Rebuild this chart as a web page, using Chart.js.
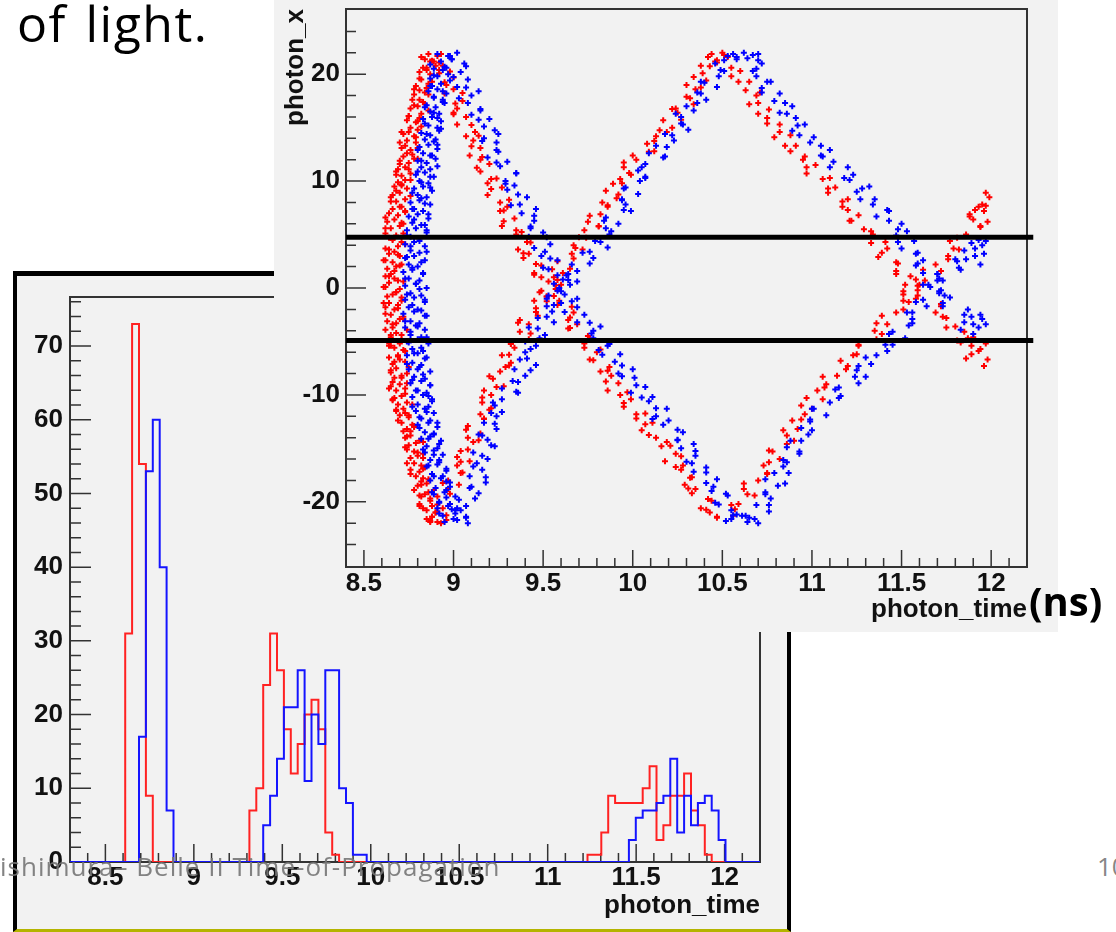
<!DOCTYPE html>
<html>
<head>
<meta charset="utf-8">
<script src="https://cdn.jsdelivr.net/npm/chart.js@4.4.0/dist/chart.umd.min.js"></script>
<style>
html, body { margin: 0; padding: 0; background: #fff; width: 1116px; height: 932px; overflow: hidden; position: relative; }
.slideText { position: absolute; font-family: 'Open Sans', sans-serif; white-space: nowrap; line-height: 1; }
#ofLight { left: 17px; top: -2px; font-size: 50px; color: #000; letter-spacing: 1.5px; word-spacing: 4px; }
#histBox { position: absolute; left: 13px; top: 271px; width: 770px; height: 653px; border-left: 4px solid #000; border-top: 5px solid #000; border-right: 4px solid #000; border-bottom: 3px solid #b4b400; background: #f2f2f2; }
#scatterBox { position: absolute; left: 274px; top: 0; width: 784px; height: 632px; background: #f2f2f2; }
canvas { display: block; }
#footer { left: 0; top: 853px; font-size: 26px; letter-spacing: 1px; color: rgba(118,118,118,0.9); }
#pageNo { left: 1097px; top: 853px; font-size: 26px; color: rgba(118,118,118,0.9); }
#units { left: 1029px; top: 581px; font-size: 40px; font-weight: bold; color: #000; }
</style>
</head>
<body>
<div id="ofLight" class="slideText">of light.</div>
<div id="histBox"></div>
<div id="footer" class="slideText">ishimura– Belle II Time-of-Propagation</div>
<div id="pageNo" class="slideText">10</div>
<div id="scatterBox"></div>
<div id="units" class="slideText">(ns)</div>
<script>
// ---- histogram: photon_time for photons inside the cut band (100 bins, 8.3 .. 12.2 ns)
const histBinStart = 8.3;
const histBinWidth = 0.039;
const redCounts = [
  0,0,0,0,0,0,0,0,31,73,
  54,9,0,0,0,0,0,0,0,0,
  0,0,0,0,0,0,7,10,24,31,
  26,18,12,16,20,22,18,4,1,0,
  0,0,0,0,0,0,0,0,0,0,
  0,0,0,0,0,0,0,0,0,0,
  0,0,0,0,0,0,0,0,0,0,
  0,0,0,0,0,1,1,4,9,8,
  8,8,8,10,13,3,5,9,9,12,
  7,5,1,0,0,0,0,0,0,0
];
const blueCounts = [
  0,0,0,0,0,0,0,0,0,0,
  17,53,60,40,7,0,0,0,0,0,
  0,0,0,0,0,0,0,0,5,9,
  14,21,21,26,11,20,16,26,26,10,
  8,1,1,0,0,0,0,0,0,0,
  0,0,0,0,0,0,0,0,0,0,
  0,0,0,0,0,0,0,0,0,0,
  0,0,0,0,0,0,0,0,0,0,
  0,3,6,7,7,8,9,14,4,9,
  5,8,9,7,3,0,0,0,0,0
];
const timeTickValues = [8.5, 9, 9.5, 10, 10.5, 11, 11.5, 12];
const timeTickLabels = ['8.5', '9', '9.5', '10', '10.5', '11', '11.5', '12'];
const countTickValues = [0, 10, 20, 30, 40, 50, 60, 70];
const countTickLabels = ['0', '10', '20', '30', '40', '50', '60', '70'];
const posTickValues = [-20, -10, 0, 10, 20];
const posTickLabels = ['-20', '-10', '0', '10', '20'];
const cutLines = [4.75, -4.9];

// ---- scatter: [photon_time, photon_x]
const redLeftArm = [
[8.86,21.9],[8.91,21.7],[8.84,21.4],[8.89,21.2],[8.90,20.8],[8.83,20.6],[8.81,20.2],[8.87,20.0],[8.85,20.4],
[8.82,19.5],[8.88,19.3],[8.79,18.9],[8.85,18.7],[8.84,18.3],[8.78,18.1],[8.81,18.5],[8.77,17.6],[8.83,17.4],
[8.80,17.0],[8.76,16.8],[8.84,17.2],[8.82,16.3],[8.75,16.1],[8.74,15.7],[8.79,15.5],[8.81,15.9],[8.76,15.0],
[8.80,14.8],[8.72,14.4],[8.78,14.2],[8.75,14.6],[8.74,13.8],[8.79,13.6],[8.71,13.1],[8.76,12.9],[8.73,13.3],
[8.77,12.5],[8.72,12.3],[8.70,11.9],[8.75,11.7],[8.78,12.1],[8.73,11.3],[8.69,11.1],[8.76,10.7],[8.71,10.5],
[8.68,10.9],[8.73,10.1],[8.69,9.9],[8.67,9.5],[8.74,9.3],[8.71,9.7],[8.70,8.9],[8.66,8.7],[8.73,8.3],[8.68,8.1],
[8.65,8.5],[8.71,7.6],[8.66,7.4],[8.64,7.0],[8.69,6.8],[8.73,7.2],[8.67,6.4],[8.63,6.2],[8.70,5.8],[8.65,5.6],
[8.72,6.0],[8.62,5.1],[8.68,4.9],[8.66,4.5],[8.71,4.3],[8.64,4.7],[8.69,3.9],[8.62,3.7],[8.64,3.2],[8.70,3.0],
[8.67,3.4],[8.61,2.6],[8.66,2.4],[8.68,2.0],[8.63,1.8],[8.71,2.2],[8.65,1.3],[8.62,1.1],[8.69,0.7],[8.64,0.5],
[8.67,0.9],[8.61,0.1],[8.70,-0.1],[8.66,-0.6],[8.63,-0.8],[8.68,-0.4],[8.71,-1.2],[8.64,-1.4],[8.62,-1.8],
[8.67,-2.0],[8.69,-1.6],[8.65,-2.5],[8.72,-2.7],[8.63,-3.1],[8.68,-3.3],[8.70,-2.9],[8.66,-3.7],[8.62,-3.9],
[8.71,-4.4],[8.65,-4.6],[8.68,-4.2],[8.63,-5.0],[8.70,-5.2],[8.67,-5.6],[8.72,-5.8],[8.65,-5.4],[8.69,-6.3],
[8.64,-6.5],[8.73,-6.9],[8.66,-7.1],[8.70,-6.7],[8.68,-7.5],[8.65,-7.7],[8.71,-8.2],[8.67,-8.4],[8.74,-8.0],
[8.66,-8.8],[8.70,-9.0],[8.73,-9.4],[8.68,-9.6],[8.65,-9.2],[8.71,-10.1],[8.67,-10.3],[8.74,-10.7],[8.69,-10.9],
[8.66,-10.5],[8.72,-11.3],[8.68,-11.5],[8.70,-11.9],[8.75,-12.1],[8.73,-11.7],[8.71,-12.6],[8.77,-12.8],
[8.74,-13.2],[8.72,-13.4],[8.78,-13.0],[8.76,-13.8],[8.73,-14.0],[8.79,-14.5],[8.75,-14.7],[8.81,-14.3],
[8.74,-15.1],[8.78,-15.3],[8.80,-15.7],[8.76,-15.9],[8.83,-15.5],[8.78,-16.4],[8.82,-16.6],[8.76,-17.0],
[8.81,-17.2],[8.84,-16.8],[8.79,-17.6],[8.83,-17.8],[8.85,-18.3],[8.80,-18.5],[8.82,-18.1],[8.78,-18.9],
[8.86,-19.1],[8.82,-19.5],[8.87,-19.7],[8.84,-19.3],[8.81,-20.2],[8.88,-20.4],[8.85,-20.8],[8.90,-21.0],
[8.83,-20.6],[8.88,-21.4],[8.85,-21.6],[8.91,-21.9],[8.87,-21.8],[8.93,-22.0],
[8.82,21.6],[8.92,21.1],[8.85,20.6],[8.92,20.1],[8.81,19.6],[8.86,19.1],[8.78,18.6],[8.86,18.1],[8.81,17.6],
[8.78,17.1],[8.86,16.6],[8.75,16.1],[8.80,15.6],[8.82,15.1],[8.71,14.6],[8.79,14.1],[8.70,13.6],[8.80,13.1],
[8.74,12.6],[8.80,12.1],[8.70,11.6],[8.75,11.1],[8.68,10.6],[8.76,10.1],[8.71,9.6],[8.68,9.1],[8.76,8.6],
[8.65,8.1],[8.70,7.6],[8.73,7.1],[8.62,6.6],[8.71,6.1],[8.62,5.6],[8.72,5.1],[8.66,4.6],[8.73,4.1],[8.64,3.6],
[8.69,3.1],[8.62,2.6],[8.70,2.1],[8.67,1.6],[8.64,1.1],[8.72,0.6],[8.62,0.1],[8.68,-0.4],[8.71,-0.9],
[8.61,-1.4],[8.69,-1.9],[8.62,-2.4],[8.72,-2.9],[8.66,-3.4],[8.74,-3.9],[8.65,-4.4],[8.71,-4.9],[8.64,-5.4],
[8.73,-5.9],[8.69,-6.4],[8.67,-6.9],[8.75,-7.4],[8.65,-7.9],[8.71,-8.4],[8.74,-8.9],[8.64,-9.4],[8.73,-9.9],
[8.66,-10.4],[8.77,-10.9],[8.68,-11.4],[8.75,-11.9],[8.69,-12.4],[8.78,-12.9],[8.76,-13.4],[8.74,-13.9],
[8.83,-14.4],[8.73,-14.9],[8.80,-15.4],[8.83,-15.9],[8.74,-16.4],[8.83,-16.9],[8.76,-17.4],[8.86,-17.9],
[8.82,-18.4],[8.89,-18.9],[8.81,-19.4],[8.87,-19.9],[8.81,-20.4],[8.91,-20.9],[8.88,-21.4],[8.87,-21.9]
];
const redFallArm1 = [
[8.93,21.9],[8.87,21.2],[8.94,20.8],[8.92,20.4],[9.00,19.7],[8.96,19.0],[9.00,18.6],[8.95,18.2],[9.05,17.5],
[9.02,16.8],[9.00,16.4],[9.07,16.0],[9.02,15.3],[9.12,14.6],[9.07,14.2],[9.11,13.8],[9.15,13.1],[9.09,12.4],
[9.15,12.0],[9.20,11.6],[9.15,10.9],[9.21,10.2],[9.19,9.8],[9.27,9.4],[9.19,8.7],[9.26,8.0],[9.30,7.6],
[9.26,7.2],[9.34,6.5],[9.27,5.8],[9.35,5.4],[9.35,5.0],[9.41,4.3],[9.36,3.6],[9.42,3.2],[9.39,2.8],[9.49,2.1],
[9.45,1.4],[9.49,1.0],[9.53,0.6],[9.57,-0.1],[9.52,-0.8],[9.59,-1.2],[9.58,-1.6],[9.67,-2.3],[9.64,-3.0],
[9.69,-3.4],[9.64,-3.8],[9.75,-4.5],[9.73,-5.2],[9.73,-5.6],[9.80,-6.0],[9.76,-6.7],[9.87,-7.4],[9.82,-7.8],
[9.88,-8.2],[9.92,-8.9],[9.86,-9.6],[9.93,-10.0],[9.99,-10.4],[9.95,-11.1],[10.02,-11.8],[10.02,-12.2],
[10.11,-12.6],[10.05,-13.3],[10.13,-14.0],[10.19,-14.4],[10.16,-14.8],[10.24,-15.5],[10.18,-16.2],[10.28,-16.6],
[10.27,-17.0],[10.33,-17.7],[10.29,-18.4],[10.35,-18.8],[10.33,-19.2],[10.44,-19.9],[10.38,-20.6],[10.43,-21.0],
[10.47,-21.4],
[8.88,21.25],[8.98,20.25],[8.95,19.25],[9.05,18.25],[9.01,17.25],[9.00,16.25],[9.10,15.25],[9.14,14.25],
[9.10,13.25],[9.16,12.25],[9.13,11.25],[9.24,10.25],[9.21,9.25],[9.31,8.25],[9.28,7.25],[9.28,6.25],
[9.38,5.25],[9.43,4.25],[9.39,3.25],[9.46,2.25],[9.45,1.25],[9.57,0.25],[9.56,-0.75],[9.66,-1.75],
[9.65,-2.75],[9.65,-3.75],[9.76,-4.75],[9.82,-5.75],[9.78,-6.75],[9.86,-7.75],[9.85,-8.75],[9.97,-9.75],
[9.95,-10.75],[10.07,-11.75],[10.07,-12.75],[10.09,-13.75],[10.21,-14.75],[10.27,-15.75],[10.24,-16.75],
[10.32,-17.75],[10.31,-18.75],[10.42,-19.75],[10.41,-20.75]
];
const redRiseArm1 = [
[8.96,-21.7],[8.90,-21.0],[8.94,-20.6],[8.98,-20.2],[8.91,-19.5],[8.97,-18.8],[9.03,-18.4],[8.97,-18.0],
[9.04,-17.3],[9.02,-16.6],[9.09,-16.2],[9.02,-15.8],[9.08,-15.1],[9.11,-14.4],[9.08,-14.0],[9.15,-13.6],
[9.08,-12.9],[9.17,-12.2],[9.15,-11.8],[9.20,-11.4],[9.16,-10.7],[9.21,-10.0],[9.17,-9.6],[9.28,-9.2],
[9.22,-8.5],[9.26,-7.8],[9.29,-7.4],[9.32,-7.0],[9.27,-6.3],[9.34,-5.6],[9.32,-5.2],[9.42,-4.8],[9.37,-4.1],
[9.42,-3.4],[9.37,-3.0],[9.47,-2.6],[9.46,-1.9],[9.45,-1.2],[9.52,-0.8],[9.48,-0.4],[9.60,0.3],[9.56,1.0],
[9.61,1.4],[9.65,1.8],[9.58,2.5],[9.66,3.2],[9.72,3.6],[9.67,4.0],[9.74,4.7],[9.73,5.4],[9.81,5.8],[9.75,6.2],
[9.82,6.9],[9.86,7.6],[9.83,8.0],[9.91,8.4],[9.85,9.1],[9.94,9.8],[9.93,10.2],[9.99,10.6],[9.95,11.3],
[10.02,12.0],[10.00,12.4],[10.12,12.8],[10.08,13.5],[10.13,14.2],[10.19,14.6],[10.22,15.0],[10.17,15.7],
[10.25,16.4],[10.24,16.8],[10.34,17.2],[10.30,17.9],[10.35,18.6],[10.30,19.0],[10.41,19.4],[10.39,20.1],
[10.38,20.8],[10.46,21.2],[10.42,21.6],[10.50,22.0],[10.53,21.6],[10.44,21.9],
[8.96,-21.25],[8.91,-20.25],[8.98,-19.25],[8.94,-18.25],[9.05,-17.25],[9.04,-16.25],[9.04,-15.25],
[9.14,-14.25],[9.07,-13.25],[9.17,-12.25],[9.21,-11.25],[9.16,-10.25],[9.24,-9.25],[9.20,-8.25],[9.31,-7.25],
[9.31,-6.25],[9.32,-5.25],[9.43,-4.25],[9.36,-3.25],[9.46,-2.25],[9.52,-1.25],[9.49,-0.25],[9.58,0.75],
[9.55,1.75],[9.67,2.75],[9.68,3.75],[9.70,4.75],[9.81,5.75],[9.76,6.75],[9.86,7.75],[9.92,8.75],[9.89,9.75],
[9.98,10.75],[9.95,11.75],[10.09,12.75],[10.12,13.75],[10.15,14.75],[10.27,15.75],[10.22,16.75],
[10.32,17.75],[10.38,18.75],[10.34,19.75],[10.43,20.75]
];
const redFallArm2 = [
[10.51,21.8],[10.47,21.1],[10.55,20.6],[10.55,19.8],[10.65,19.3],[10.63,18.5],[10.69,18.0],[10.65,17.2],
[10.76,16.7],[10.75,15.9],[10.75,15.4],[10.82,14.6],[10.79,14.1],[10.91,13.3],[10.88,12.8],[10.95,12.0],
[11.02,11.5],[10.97,10.7],[11.06,10.2],[11.13,9.4],[11.09,8.9],[11.17,8.1],[11.17,7.6],[11.26,6.8],
[11.21,6.3],[11.29,5.5],[11.34,5.0],[11.33,4.2],[11.42,3.7],[11.37,2.9],[11.47,2.4],[11.47,1.6],[11.55,1.1],
[11.52,0.3],[11.59,-0.2],[11.58,-1.0],[11.72,-1.5],[11.69,-2.3],[11.75,-2.8],[11.80,-3.6],[11.85,-4.1],
[11.81,-4.9],[11.89,-5.4],[11.89,-6.2],[11.98,-6.7],[11.93,-5.9],[11.86,-6.6],[11.96,-7.3],[11.90,-4.6],
[11.83,-5.1],[11.97,-5.2],
[10.47,21.3],[10.60,20.3],[10.59,19.3],[10.71,18.3],[10.70,17.3],[10.70,16.3],[10.82,15.3],[10.88,14.3],
[10.85,13.3],[10.96,12.3],[10.97,11.3],[11.10,10.3],[11.09,9.3],[11.20,8.3],[11.20,7.3],[11.22,6.3],
[11.33,5.3],[11.41,4.3],[11.39,3.3],[11.48,2.3],[11.47,1.3],[11.60,0.3],[11.59,-0.7],[11.72,-1.7],
[11.73,-2.7],[11.75,-3.7],[11.87,-4.7],[11.94,-5.7]
];
const redRiseArm2 = [
[10.47,-21.5],[10.57,-20.7],[10.59,-20.2],[10.68,-19.4],[10.62,-18.8],[10.70,-18.0],[10.75,-17.4],
[10.73,-16.6],[10.82,-16.0],[10.76,-15.2],[10.86,-14.6],[10.86,-13.8],[10.92,-13.2],[10.89,-12.4],
[10.96,-11.8],[10.94,-11.0],[11.06,-10.4],[11.03,-9.6],[11.08,-9.0],[11.14,-8.2],[11.19,-7.6],[11.16,-6.8],
[11.25,-6.2],[11.26,-5.4],[11.36,-4.8],[11.35,-4.0],[11.42,-3.4],[11.39,-2.6],[11.51,-2.0],[11.51,-1.2],
[11.51,-0.6],[11.59,0.2],[11.58,0.8],[11.72,1.6],[11.69,2.2],[11.76,3.0],[11.82,3.6],[11.77,4.4],[11.86,5.0],
[11.94,5.8],[11.90,6.4],[11.96,7.2],[11.95,7.8],[11.99,8.5],[11.97,8.9],[11.93,7.6],[11.88,6.9],[11.98,6.2],
[11.91,7.3],
[10.56,-21.3],[10.55,-20.3],[10.64,-19.3],[10.62,-18.3],[10.75,-17.3],[10.76,-16.3],[10.78,-15.3],
[10.90,-14.3],[10.84,-13.3],[10.94,-12.3],[11.00,-11.3],[10.97,-10.3],[11.07,-9.3],[11.06,-8.3],[11.20,-7.3],
[11.23,-6.3],[11.26,-5.3],[11.39,-4.3],[11.36,-3.3],[11.47,-2.3],[11.54,-1.3],[11.51,-0.3],[11.63,0.7],
[11.62,1.7],[11.76,2.7],[11.79,3.7],[11.81,4.7],[11.94,5.7],[11.88,6.7],[11.97,7.7]
];
const blueLeftArm = [
[8.91,21.9],[8.97,21.7],[9.02,22.0],[8.93,21.2],[8.99,21.4],[8.89,20.5],[8.95,20.7],[8.91,19.8],[8.97,20.0],
[8.87,19.6],[8.93,19.1],[8.88,18.9],[8.86,18.4],[8.91,18.6],[8.96,18.2],[8.89,17.8],[8.94,17.6],[8.85,17.1],
[8.90,16.9],[8.95,17.3],[8.87,16.5],[8.92,16.3],[8.83,15.8],[8.88,16.0],[8.93,15.6],[8.86,15.2],[8.91,15.0],
[8.82,14.5],[8.87,14.3],[8.92,14.7],[8.84,13.9],[8.89,13.7],[8.81,13.2],[8.86,13.4],[8.91,13.0],[8.83,12.6],
[8.88,12.4],[8.80,11.9],[8.85,11.7],[8.90,12.1],[8.82,11.3],[8.87,11.1],[8.79,10.6],[8.84,10.8],[8.89,10.4],
[8.81,10.0],[8.86,9.8],[8.78,9.3],[8.83,9.5],[8.88,9.1],[8.80,8.7],[8.85,8.5],[8.76,8.0],[8.81,8.2],[8.87,7.8],
[8.78,7.4],[8.83,7.2],[8.75,6.7],[8.80,6.9],[8.86,6.5],[8.77,6.1],[8.82,5.9],[8.74,5.4],[8.79,5.6],[8.85,5.2],
[8.76,4.8],[8.81,4.6],[8.73,4.1],[8.78,4.3],[8.84,3.9],[8.76,3.5],[8.81,3.3],[8.73,2.8],[8.78,3.0],[8.84,2.6],
[8.75,2.2],[8.80,2.0],[8.72,1.5],[8.77,1.7],[8.83,1.3],[8.75,0.9],[8.81,0.7],[8.73,0.2],[8.79,0.4],[8.85,0.0],
[8.76,-0.5],[8.82,-0.7],[8.73,-1.1],[8.78,-0.9],[8.84,-1.3],[8.75,-1.8],[8.80,-2.0],[8.72,-2.4],[8.78,-2.2],
[8.85,-2.6],[8.76,-3.1],[8.81,-3.3],[8.73,-3.7],[8.79,-3.5],[8.84,-3.9],[8.76,-4.4],[8.82,-4.6],[8.74,-5.0],
[8.80,-4.8],[8.86,-5.2],[8.77,-5.7],[8.83,-5.9],[8.74,-6.3],[8.80,-6.1],[8.85,-6.5],[8.77,-7.0],[8.82,-7.2],
[8.75,-7.6],[8.81,-7.4],[8.87,-7.8],[8.78,-8.3],[8.84,-8.5],[8.76,-8.9],[8.82,-8.7],[8.87,-9.1],[8.79,-9.6],
[8.85,-9.8],[8.77,-10.2],[8.83,-10.0],[8.88,-10.4],[8.80,-10.9],[8.86,-11.1],[8.79,-11.5],[8.84,-11.3],
[8.89,-11.7],[8.82,-12.2],[8.87,-12.4],[8.80,-12.8],[8.86,-12.6],[8.91,-13.0],[8.84,-13.5],[8.89,-13.7],
[8.82,-14.1],[8.87,-13.9],[8.93,-14.3],[8.85,-14.8],[8.91,-15.0],[8.84,-15.4],[8.89,-15.2],[8.94,-15.6],
[8.87,-16.1],[8.92,-16.3],[8.85,-16.7],[8.91,-16.5],[8.96,-16.9],[8.88,-17.4],[8.94,-17.6],[8.87,-18.0],
[8.93,-17.8],[8.98,-18.2],[8.90,-18.7],[8.96,-18.9],[8.89,-19.3],[8.95,-19.1],[9.01,-19.5],[8.92,-20.0],
[8.98,-20.2],[8.91,-20.6],[8.97,-20.4],[9.04,-20.8],[8.94,-21.3],[9.01,-21.1],[9.07,-21.5],[8.95,-21.9],
[9.02,-21.7],[9.08,-22.0],
[8.99,21.4],[8.87,20.9],[8.94,20.4],[8.89,19.9],[8.98,19.4],[8.87,18.9],[8.94,18.4],[8.89,17.9],[8.94,17.4],
[8.84,16.9],[8.89,16.4],[8.91,15.9],[8.84,15.4],[8.93,14.9],[8.85,14.4],[8.90,13.9],[8.91,13.4],[8.80,12.9],
[8.87,12.4],[8.82,11.9],[8.91,11.4],[8.80,10.9],[8.87,10.4],[8.82,9.9],[8.87,9.4],[8.77,8.9],[8.82,8.4],
[8.84,7.9],[8.77,7.4],[8.86,6.9],[8.78,6.4],[8.84,5.9],[8.85,5.4],[8.74,4.9],[8.81,4.4],[8.76,3.9],[8.85,3.4],
[8.74,2.9],[8.82,2.4],[8.77,1.9],[8.83,1.4],[8.73,0.9],[8.79,0.4],[8.81,-0.1],[8.74,-0.6],[8.84,-1.1],
[8.77,-1.6],[8.82,-2.1],[8.84,-2.6],[8.73,-3.1],[8.80,-3.6],[8.76,-4.1],[8.85,-4.6],[8.75,-5.1],[8.82,-5.6],
[8.78,-6.1],[8.84,-6.6],[8.74,-7.1],[8.80,-7.6],[8.83,-8.1],[8.77,-8.6],[8.87,-9.1],[8.80,-9.6],[8.86,-10.1],
[8.88,-10.6],[8.77,-11.1],[8.85,-11.6],[8.81,-12.1],[8.91,-12.6],[8.81,-13.1],[8.89,-13.6],[8.86,-14.1],
[8.92,-14.6],[8.83,-15.1],[8.89,-15.6],[8.92,-16.1],[8.86,-16.6],[8.96,-17.1],[8.89,-17.6],[8.96,-18.1],
[8.98,-18.6],[8.88,-19.1],[8.96,-19.6],[8.92,-20.1],[9.02,-20.6],[8.92,-21.1],[9.00,-21.6]
];
const blueFallArm1 = [
[8.98,21.7],[9.06,21.0],[8.96,20.6],[9.04,20.2],[9.08,19.5],[9.02,18.8],[9.14,18.4],[9.10,18.0],[9.08,17.3],
[9.15,16.6],[9.10,16.2],[9.20,15.8],[9.17,15.1],[9.25,14.4],[9.17,14.0],[9.24,13.6],[9.24,12.9],[9.19,12.2],
[9.30,11.8],[9.26,11.4],[9.35,10.7],[9.29,10.0],[9.34,9.6],[9.30,9.2],[9.41,8.5],[9.37,7.8],[9.46,7.4],
[9.38,7.0],[9.45,6.3],[9.43,5.6],[9.50,5.2],[9.42,4.8],[9.54,4.1],[9.51,3.4],[9.49,3.0],[9.58,2.6],[9.50,1.9],
[9.58,1.2],[9.61,0.8],[9.56,0.4],[9.60,-0.3],[9.69,-1.0],[9.60,-1.4],[9.69,-1.8],[9.73,-2.5],[9.69,-3.2],
[9.82,-3.6],[9.78,-4.0],[9.78,-4.7],[9.86,-5.4],[9.81,-5.8],[9.93,-6.2],[9.90,-6.9],[10.00,-7.6],[9.92,-8.0],
[10.01,-8.4],[10.02,-9.1],[9.99,-9.8],[10.11,-10.2],[10.09,-10.6],[10.19,-11.3],[10.13,-12.0],[10.20,-12.4],
[10.17,-12.8],[10.28,-13.5],[10.25,-14.2],[10.34,-14.6],[10.27,-15.0],[10.35,-15.7],[10.33,-16.4],
[10.41,-16.8],[10.34,-17.2],[10.47,-17.9],[10.45,-18.6],[10.44,-19.0],[10.53,-19.4],[10.46,-20.1],
[10.55,-20.8],[10.58,-21.2],[10.55,-21.6],[10.64,-21.9],[10.68,-21.6],[10.61,-21.3],[10.70,-22.0],[10.52,-21.8],
[9.07,20.75],[9.00,19.75],[9.07,18.75],[9.03,17.75],[9.15,16.75],[9.14,15.75],[9.23,14.75],[9.16,13.75],
[9.25,12.75],[9.24,11.75],[9.35,10.75],[9.29,9.75],[9.36,8.75],[9.32,7.75],[9.45,6.75],[9.43,5.75],
[9.52,4.75],[9.45,3.75],[9.54,2.75],[9.53,1.75],[9.64,0.75],[9.58,-0.25],[9.66,-1.25],[9.62,-2.25],
[9.76,-3.25],[9.77,-4.25],[9.87,-5.25],[9.83,-6.25],[9.94,-7.25],[9.94,-8.25],[10.07,-9.25],[10.05,-10.25],
[10.13,-11.25],[10.11,-12.25],[10.25,-13.25],[10.25,-14.25],[10.35,-15.25],[10.30,-16.25],[10.41,-17.25],
[10.41,-18.25],[10.52,-19.25],[10.48,-20.25],[10.56,-21.25]
];
const blueRiseArm1 = [
[9.07,-21.4],[9.01,-20.8],[9.07,-20.4],[9.03,-19.8],[9.14,-19.2],[9.10,-18.6],[9.18,-18.2],[9.09,-17.6],
[9.16,-17.0],[9.13,-16.4],[9.19,-16.0],[9.11,-15.4],[9.23,-14.8],[9.19,-14.2],[9.16,-13.8],[9.24,-13.2],
[9.17,-12.6],[9.24,-12.0],[9.27,-11.6],[9.23,-11.0],[9.27,-10.4],[9.36,-9.8],[9.27,-9.4],[9.36,-8.8],
[9.40,-8.2],[9.34,-7.6],[9.46,-7.2],[9.41,-6.6],[9.40,-6.0],[9.46,-5.4],[9.40,-5.0],[9.51,-4.4],[9.47,-3.8],
[9.56,-3.2],[9.47,-2.8],[9.55,-2.2],[9.56,-1.6],[9.52,-1.0],[9.62,-0.6],[9.59,0.0],[9.69,0.6],[9.63,1.2],
[9.69,1.6],[9.66,2.2],[9.78,2.8],[9.76,3.4],[9.86,3.8],[9.79,4.4],[9.87,5.0],[9.85,5.6],[9.92,6.0],[9.85,6.6],
[9.99,7.2],[9.96,7.8],[9.94,8.2],[10.03,8.8],[9.96,9.4],[10.04,10.0],[10.07,10.4],[10.03,11.0],[10.07,11.6],
[10.17,12.2],[10.09,12.6],[10.19,13.2],[10.23,13.8],[10.18,14.4],[10.31,14.8],[10.27,15.4],[10.27,16.0],
[10.34,16.6],[10.30,17.0],[10.41,17.6],[10.38,18.2],[10.47,18.8],[10.40,19.2],[10.48,19.8],[10.49,20.4],
[10.46,21.0],[10.58,21.4],[10.56,21.9],[10.62,22.0],[10.67,21.8],[10.70,21.9],[10.64,21.5],[10.53,21.7],
[8.99,-20.7],[9.12,-19.7],[9.09,-18.7],[9.18,-17.7],[9.11,-16.7],[9.16,-15.7],[9.21,-14.7],[9.14,-13.7],
[9.23,-12.7],[9.21,-11.7],[9.22,-10.7],[9.35,-9.7],[9.33,-8.7],[9.43,-7.7],[9.37,-6.7],[9.43,-5.7],
[9.48,-4.7],[9.42,-3.7],[9.52,-2.7],[9.52,-1.7],[9.53,-0.7],[9.65,0.3],[9.64,1.3],[9.76,2.3],[9.72,3.3],
[9.82,4.3],[9.88,5.3],[9.84,6.3],[9.95,7.3],[9.94,8.3],[9.95,9.3],[10.07,10.3],[10.05,11.3],[10.18,12.3],
[10.13,13.3],[10.22,14.3],[10.28,15.3],[10.24,16.3],[10.36,17.3],[10.36,18.3],[10.38,19.3],[10.51,20.3],
[10.51,21.3]
];
const blueFallArm2 = [
[10.58,21.6],[10.72,21.0],[10.69,20.5],[10.69,19.8],[10.77,19.3],[10.72,18.7],[10.82,18.2],[10.79,17.5],
[10.89,17.0],[10.82,16.4],[10.91,15.9],[10.92,15.2],[10.89,14.7],[11.01,14.1],[10.99,13.6],[11.10,12.9],
[11.05,12.4],[11.12,11.8],[11.10,11.3],[11.23,10.6],[11.21,10.1],[11.32,9.5],[11.25,9.0],[11.35,8.3],
[11.34,7.8],[11.43,7.2],[11.36,6.7],[11.50,6.0],[11.48,5.5],[11.47,4.9],[11.57,4.4],[11.50,3.7],[11.58,3.2],
[11.62,2.6],[11.58,2.1],[11.62,1.4],[11.71,0.9],[11.62,0.3],[11.72,-0.2],[11.77,-0.9],[11.73,-1.4],
[11.87,-2.0],[11.85,-2.5],[11.85,-3.2],[11.93,-3.7],[11.95,-2.9],[11.90,-4.3],[11.97,-3.4],[11.83,-3.9],
[11.94,-2.5],
[10.70,21.3],[10.67,20.3],[10.75,19.3],[10.72,18.3],[10.85,17.3],[10.86,16.3],[10.96,15.3],[10.93,14.3],
[11.05,13.3],[11.06,12.3],[11.20,11.3],[11.18,10.3],[11.28,9.3],[11.27,8.3],[11.42,7.3],[11.43,6.3],
[11.53,5.3],[11.48,4.3],[11.59,3.3],[11.59,2.3],[11.70,1.3],[11.65,0.3],[11.74,-0.7],[11.73,-1.7],
[11.89,-2.7],[11.90,-3.4]
];
const blueRiseArm2 = [
[10.65,-21.5],[10.76,-20.9],[10.69,-20.3],[10.77,-19.7],[10.74,-19.1],[10.81,-18.5],[10.74,-17.9],
[10.87,-17.3],[10.84,-16.7],[10.84,-16.1],[10.93,-15.5],[10.86,-14.9],[10.94,-14.3],[10.98,-13.7],
[10.94,-13.1],[10.99,-12.5],[11.08,-11.9],[11.00,-11.3],[11.10,-10.7],[11.16,-10.1],[11.13,-9.5],[11.26,-8.9],
[11.24,-8.3],[11.25,-7.7],[11.33,-7.1],[11.30,-6.5],[11.42,-5.9],[11.41,-5.3],[11.52,-4.7],[11.45,-4.1],
[11.54,-3.5],[11.56,-2.9],[11.53,-2.3],[11.64,-1.7],[11.62,-1.1],[11.71,-0.5],[11.66,0.1],[11.73,0.7],
[11.70,1.3],[11.82,1.9],[11.81,2.5],[11.91,3.0],[11.85,3.5],[11.95,4.0],[11.93,4.5],[11.96,3.2],[11.89,4.2],
[11.97,4.4],[11.86,2.7],[11.94,2.2],
[10.63,-21.3],[10.76,-20.3],[10.74,-19.3],[10.85,-18.3],[10.79,-17.3],[10.86,-16.3],[10.93,-15.3],
[10.88,-14.3],[11.00,-13.3],[10.99,-12.3],[11.01,-11.3],[11.15,-10.3],[11.15,-9.3],[11.30,-8.3],[11.26,-7.3],
[11.36,-6.3],[11.45,-5.3],[11.43,-4.3],[11.56,-3.3],[11.56,-2.3],[11.58,-1.3],[11.71,-0.3],[11.70,0.7],
[11.83,1.7],[11.80,2.7],[11.91,3.7]
];

Chart.defaults.font.family = "'Liberation Sans', Arial, sans-serif";
Chart.defaults.color = '#111';

// ROOT style frame: box round the plot and tick marks pointing inwards
const rootFrame = {
    id: 'rootFrame',
    beforeDatasetsDraw(chart, args, opts) {
        const ctx = chart.ctx, a = chart.chartArea;
        const xs = chart.scales.x, ys = chart.scales.y;
        ctx.save();
        ctx.strokeStyle = '#333';
        ctx.lineWidth = 1.5;
        ctx.beginPath();
        let xTicks = function(vals, len) {
            vals.forEach(v => {
                const px = xs.getPixelForValue(v);
                ctx.moveTo(px, a.bottom);
                ctx.lineTo(px, a.bottom - len);
            });
        };
        let yTicks = function(vals, len) {
            vals.forEach(v => {
                const py = ys.getPixelForValue(v);
                ctx.moveTo(a.left, py);
                ctx.lineTo(a.left + len, py);
            });
        };
        xTicks(opts.xMinor, opts.xMinorLen);
        xTicks(opts.xMajor, opts.xMajorLen);
        yTicks(opts.yMinor, opts.yMinorLen);
        yTicks(opts.yMajor, opts.yMajorLen);
        ctx.stroke();
        ctx.lineWidth = 2;
        ctx.strokeRect(a.left, a.top, a.right - a.left, a.bottom - a.top);
        ctx.restore();
    }
};

let steps = function(from, to, step) {
    let out = [];
    for (let i = 0; from + i * step <= to + 1e-9; i++) {
        out.push(Math.round((from + i * step) * 1000) / 1000);
    }
    return out;
};

let makeCanvas = function(holder, w, h) {
    let canvas = document.createElement('canvas');
    canvas.setAttribute('width', w);
    canvas.setAttribute('height', h);
    holder.appendChild(canvas);
    return canvas.getContext('2d');
};

let labelFont = { family: "'Liberation Sans', Arial, sans-serif", weight: 'bold', size: 26 };
let titleFont = { family: "'Liberation Sans', Arial, sans-serif", weight: 'bold', size: 26 };

let fixedTicks = function(values, labels) {
    return {
        afterBuildTicks: axis => { axis.ticks = values.map(v => ({ value: v })); },
        callback: v => labels[values.indexOf(v)]
    };
};

// fixed axis box, no extra label padding pushed into the layout
let fitTo = function(prop, size) {
    return s => {
        s[prop] = size;
        s.paddingTop = 0; s.paddingBottom = 0; s.paddingLeft = 0; s.paddingRight = 0;
    };
};

let buildHistogram = function() {
    let ctx = makeCanvas(document.getElementById('histBox'), 770, 653);
    let toSteps = counts => {
        let pts = counts.map((c, i) => ({ x: histBinStart + i * histBinWidth, y: c }));
        pts.push({ x: histBinStart + counts.length * histBinWidth, y: counts[counts.length - 1] });
        return pts;
    };
    let xt = fixedTicks(timeTickValues, timeTickLabels);
    let yt = fixedTicks(countTickValues, countTickLabels);
    new Chart(ctx, {
        type: 'line',
        data: {
            datasets: [{
                data: toSteps(blueCounts),
                borderColor: '#1414ff',
                borderWidth: 2,
                pointRadius: 0,
                stepped: 'before',
                fill: false
            }, {
                data: toSteps(redCounts),
                borderColor: '#ff2222',
                borderWidth: 2,
                pointRadius: 0,
                stepped: 'before',
                fill: false
            }]
        },
        options: {
            responsive: false,
            animation: false,
            layout: { padding: { left: 0, top: 21, right: 27, bottom: 0 } },
            plugins: {
                legend: { display: false },
                tooltip: { enabled: false },
                rootFrame: {
                    xMajor: timeTickValues, xMajorLen: 18,
                    xMinor: steps(8.4, 12.1, 0.1), xMinorLen: 9,
                    yMajor: countTickValues, yMajorLen: 21,
                    yMinor: steps(2, 76, 2), yMinorLen: 11
                }
            },
            scales: {
                x: {
                    type: 'linear', min: 8.3, max: 12.2,
                    afterFit: fitTo('height', 67),
                    afterBuildTicks: xt.afterBuildTicks,
                    grid: { display: false, drawTicks: false },
                    border: { display: false },
                    ticks: { font: labelFont, color: '#111', padding: 0, maxRotation: 0, autoSkip: false, callback: xt.callback },
                    title: { display: true, text: 'photon_time', align: 'end', font: titleFont, color: '#111', padding: { top: 0, bottom: 8 } }
                },
                y: {
                    type: 'linear', min: 0, max: 76.65,
                    afterFit: fitTo('width', 53),
                    afterBuildTicks: yt.afterBuildTicks,
                    grid: { display: false, drawTicks: false },
                    border: { display: false },
                    ticks: { font: labelFont, color: '#111', padding: 7, autoSkip: false, callback: yt.callback }
                }
            }
        },
        plugins: [rootFrame]
    });
};

let buildScatter = function() {
    let ctx = makeCanvas(document.getElementById('scatterBox'), 784, 632);
    let toXY = pts => pts.map(p => ({ x: p[0], y: p[1] }));
    let redPoints = [].concat(redLeftArm, redFallArm1, redRiseArm1, redFallArm2, redRiseArm2);
    let bluePoints = [].concat(blueLeftArm, blueFallArm1, blueRiseArm1, blueFallArm2, blueRiseArm2);
    let xt = fixedTicks(timeTickValues, timeTickLabels);
    let yt = fixedTicks(posTickValues, posTickLabels);
    let lineSets = cutLines.map(v => ({
        type: 'line',
        data: [{ x: 8.4, y: v }, { x: 12.235, y: v }],
        borderColor: '#000',
        borderWidth: 5,
        pointRadius: 0,
        clip: false,
        order: 0
    }));
    new Chart(ctx, {
        type: 'scatter',
        data: {
            datasets: lineSets.concat([{
                data: toXY(bluePoints),
                pointStyle: 'cross',
                pointRadius: 3,
                borderColor: '#0000ff',
                backgroundColor: '#0000ff',
                borderWidth: 2,
                order: 1
            }, {
                data: toXY(redPoints),
                pointStyle: 'cross',
                pointRadius: 3,
                borderColor: '#ff0000',
                backgroundColor: '#ff0000',
                borderWidth: 2,
                order: 2
            }])
        },
        options: {
            responsive: false,
            animation: false,
            layout: { padding: { left: 0, top: 9, right: 31, bottom: 0 } },
            plugins: {
                legend: { display: false },
                tooltip: { enabled: false },
                rootFrame: {
                    xMajor: timeTickValues, xMajorLen: 17,
                    xMinor: steps(8.5, 12.1, 0.1), xMinorLen: 9,
                    yMajor: posTickValues, yMajorLen: 20,
                    yMinor: steps(-24, 24, 2), yMinorLen: 10
                }
            },
            scales: {
                x: {
                    type: 'linear', min: 8.4, max: 12.2,
                    afterFit: fitTo('height', 65),
                    afterBuildTicks: xt.afterBuildTicks,
                    grid: { display: false, drawTicks: false },
                    border: { display: false },
                    ticks: { font: labelFont, color: '#111', padding: 1, maxRotation: 0, autoSkip: false, callback: xt.callback },
                    title: { display: true, text: 'photon_time', align: 'end', font: titleFont, color: '#111', padding: { top: 0, bottom: 7 } }
                },
                y: {
                    type: 'linear', min: -26.1, max: 26.1,
                    afterFit: fitTo('width', 72),
                    afterBuildTicks: yt.afterBuildTicks,
                    grid: { display: false, drawTicks: false },
                    border: { display: false },
                    ticks: { font: labelFont, color: '#111', padding: 6, autoSkip: false, callback: yt.callback },
                    title: { display: true, text: 'photon_x', align: 'end', font: titleFont, color: '#111', padding: { top: 6, bottom: 0 } }
                }
            }
        },
        plugins: [rootFrame]
    });
};

buildHistogram();
buildScatter();
</script>
</body>
</html>
